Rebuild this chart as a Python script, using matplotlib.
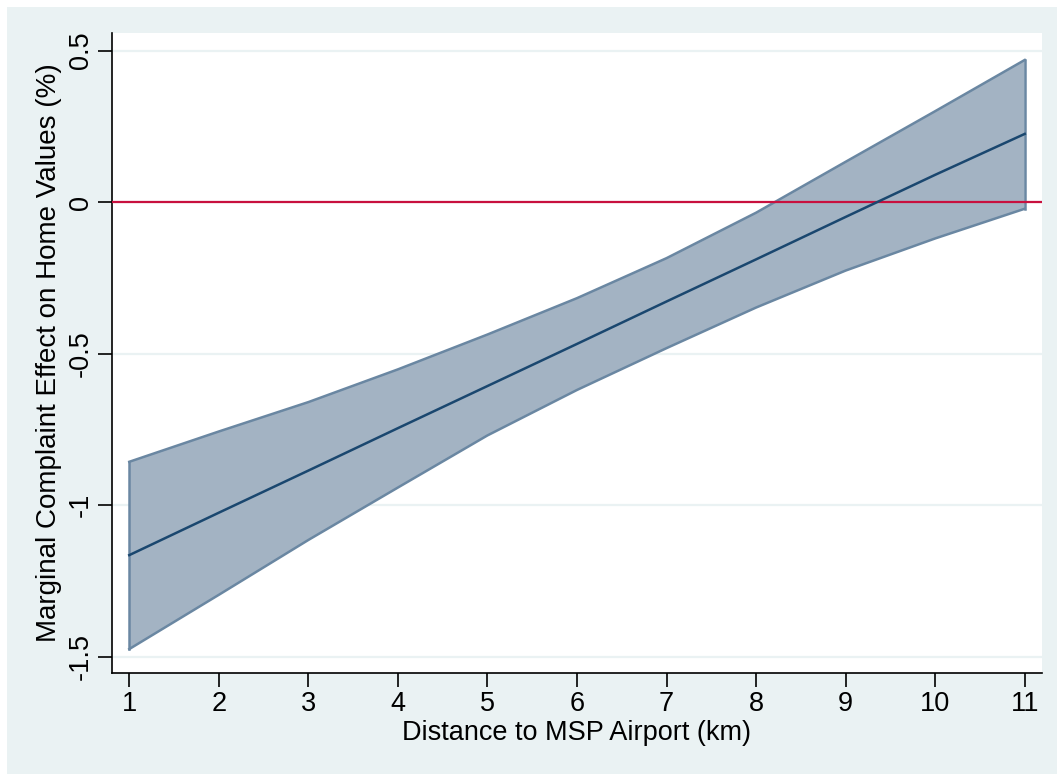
import matplotlib
matplotlib.use("Agg")
import matplotlib.pyplot as plt
from matplotlib.patches import Rectangle

plt.rcParams['font.family'] = ['Liberation Sans', 'DejaVu Sans']

distance_km = [1, 2, 3, 4, 5, 6, 7, 8, 9, 10, 11]
effect_mean = [-1.165, -1.025, -0.886, -0.746, -0.607, -0.468, -0.328, -0.189, -0.049, 0.090, 0.225]
ci_upper = [-0.857, -0.757, -0.660, -0.552, -0.437, -0.317, -0.185, -0.035, 0.133, 0.300, 0.469]
ci_lower = [-1.475, -1.296, -1.115, -0.942, -0.770, -0.620, -0.482, -0.348, -0.226, -0.120, -0.022]
x_ticks = [1, 2, 3, 4, 5, 6, 7, 8, 9, 10, 11]
y_ticks = [-1.5, -1, -0.5, 0, 0.5]
y_tick_labels = ['-1.5', '-1', '-0.5', '0', '0.5']

W, H = 1057, 774
fig = plt.figure(figsize=(W / 100, H / 100), dpi=100, facecolor='white')
bg = '#EAF2F3'
fig.add_artist(Rectangle((7 / W, 0), 1 - 7 / W, 1 - 7 / H, transform=fig.transFigure,
                         facecolor=bg, edgecolor='none', zorder=-10))

left, right, top, bottom = 112, 1042, 33, 673
ax = fig.add_axes([left / W, 1 - bottom / H, (right - left) / W, (bottom - top) / H])
ax.set_zorder(5)
ax.set_facecolor('white')

ax.set_xlim(0.807, 11.193)
ax.set_ylim(-1.554, 0.558)

for yv in y_ticks:
    ax.axhline(yv, color=bg, lw=1.6, zorder=1)

ax.fill_between(distance_km, ci_lower, ci_upper, facecolor='#A3B3C3', edgecolor='none', zorder=2)
ax.plot(distance_km, ci_upper, color='#6A87A2', lw=1.8, zorder=3)
ax.plot(distance_km, ci_lower, color='#6A87A2', lw=1.8, zorder=3)
ax.plot([distance_km[0]] * 2, [ci_lower[0], ci_upper[0]], color='#6A87A2', lw=1.8, zorder=3)
ax.plot([distance_km[-1]] * 2, [ci_lower[-1], ci_upper[-1]], color='#6A87A2', lw=1.8, zorder=3)
ax.axhline(0, color='#C8103E', lw=1.6, zorder=4)
ax.plot(distance_km, effect_mean, color='#1A476F', lw=1.8, zorder=5)

for s in ['top', 'right']:
    ax.spines[s].set_visible(False)
for s in ['left', 'bottom']:
    ax.spines[s].set_linewidth(1.2)
    ax.spines[s].set_color('black')

ax.set_xticks(x_ticks)
ax.set_xticklabels([str(v) for v in x_ticks])
ax.set_yticks(y_ticks)
ax.set_yticklabels(y_tick_labels, rotation=90, va='center')
ax.tick_params(axis='both', direction='out', length=10, width=1.2, labelsize=19.5, pad=3)

ax.set_xlabel('Distance to MSP Airport (km)', fontsize=19.5, labelpad=2)
ax.set_ylabel('Marginal Complaint Effect on Home Values (%)', fontsize=20, labelpad=4)

fig.savefig('out.png', dpi=100, facecolor='white')
